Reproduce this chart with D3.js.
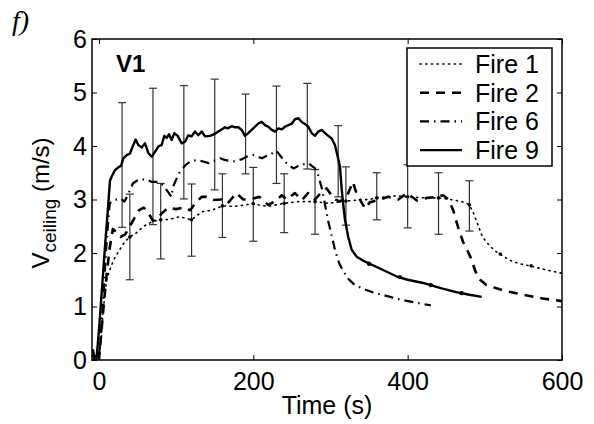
<!DOCTYPE html>
<html>
<head>
<meta charset="utf-8">
<script src="https://cdn.jsdelivr.net/npm/d3@7"></script>
<style>
  body { margin: 0; background: #fff; }
  svg { display: block; }
  text { font-family: "Liberation Sans", Arial, sans-serif; fill: #000; }
</style>
</head>
<body>
<svg id="chart" width="594" height="424"></svg>
<script>
// values: [time (s), V_ceiling (m/s)]
const fire1 = [[-8,0.15],[-6,0],[-3,0.12],[0,0.05],[3,0.4],[5,0.85],[8,1.25],[10,1.5],[14,1.68],[19,1.87],
  [25,2.02],[33,2.2],[40,2.3],[48,2.37],[57,2.49],[64,2.55],[72,2.6],[80,2.62],[92,2.63],[105,2.68],
  [112,2.65],[120,2.62],[133,2.77],[146,2.8],[155,2.85],[160,2.88],[175,2.87],[190,2.9],[200,2.92],
  [218,2.87],[230,2.9],[240,2.93],[258,2.96],[280,2.96],[297,2.93],[320,2.97],[335,2.99],[350,3.0],
  [360,3.03],[385,3.07],[400,3.05],[422,3.03],[440,3.03],[460,2.99],[473,2.95],[480,2.9],[486,2.72],
  [497,2.3],[507,2.12],[515,2.02],[526,1.92],[536,1.84],[548,1.79],[558,1.76],[578,1.69],[600,1.62]];

const fire2 = [[-8,0.1],[-5,0],[-2,0.1],[0,0],[3,0.5],[6,1.0],[10,1.6],[14,2.1],[18,2.45],[22,2.4],
  [28,2.3],[34,2.35],[40,2.5],[46,2.65],[52,2.8],[58,2.85],[64,2.75],[70,2.6],[76,2.65],[82,2.75],
  [90,2.85],[100,2.82],[110,2.85],[118,2.8],[126,2.95],[133,3.05],[139,3.05],[148,2.99],[159,3.0],
  [167,2.93],[178,3.12],[187,3.0],[195,3.0],[208,3.05],[219,2.9],[228,2.96],[237,3.08],[243,3.0],
  [254,3.12],[263,2.99],[271,3.12],[280,3.0],[289,3.15],[295,3.21],[304,3.02],[312,2.96],[321,3.05],
  [329,3.33],[334,3.1],[345,2.83],[351,2.95],[364,3.0],[375,3.05],[388,3.0],[399,3.12],[412,2.98],
  [425,3.03],[438,3.05],[446,3.08],[453,3.0],[459,2.8],[466,2.45],[472,2.2],[476,2.1],[482,1.9],
  [488,1.65],[494,1.5],[502,1.4],[515,1.34],[530,1.28],[550,1.22],[575,1.15],[600,1.1]];

const fire6 = [[-8,0.1],[-5,0],[-2,0.12],[0,0.05],[3,0.6],[6,1.2],[9,2.0],[12,2.6],[14,2.93],[20,2.99],
  [28,3.02],[33,2.96],[38,3.1],[44,3.3],[50,3.36],[61,3.38],[68,3.33],[77,3.33],[83,3.27],[89,3.15],
  [94,3.05],[96,3.24],[101,3.4],[105,3.52],[112,3.64],[118,3.71],[127,3.74],[135,3.71],[142,3.68],
  [157,3.77],[163,3.74],[174,3.71],[185,3.75],[191,3.8],[200,3.83],[211,3.77],[224,3.86],[230,3.91],
  [236,3.8],[243,3.68],[252,3.58],[260,3.64],[271,3.68],[280,3.58],[284,3.46],[289,3.2],[293,2.9],
  [297,2.6],[302,2.3],[306,2.05],[311,1.82],[317,1.65],[323,1.52],[330,1.42],[342,1.33],[358,1.25],
  [375,1.19],[390,1.13],[408,1.08],[430,1.02]];

const fire9 = [[-8,0.2],[-5,0],[-3,0.05],[0,0.55],[4,1.35],[8,2.15],[12,2.9],[14.3,3.35],[16.5,3.43],
  [20.8,3.55],[25.1,3.6],[28.6,3.63],[31.6,3.77],[36,3.83],[40.2,3.86],[44.5,4.02],[47.6,4.12],[51,4.02],
  [55.4,3.97],[59.7,4.05],[64,3.87],[68.4,3.8],[72.6,3.89],[76.9,3.99],[81.3,4.02],[84.7,4.19],[87.8,4.15],
  [90.8,4.22],[94.3,4.11],[97.6,4.24],[102,4.19],[107.2,4.05],[111.5,4.08],[115.8,4.2],[120,4.18],
  [124.5,4.27],[128.7,4.2],[133.1,4.27],[137.4,4.18],[143.9,4.19],[149.5,4.22],[154.6,4.27],[159,4.31],
  [163.3,4.35],[167,4.33],[172,4.37],[176,4.35],[180.6,4.35],[185,4.3],[189.2,4.19],[193.5,4.24],
  [197.9,4.3],[202.2,4.36],[206.5,4.42],[210.9,4.45],[215.2,4.39],[219.4,4.36],[223.8,4.3],[228.1,4.27],
  [232.4,4.33],[237,4.31],[241.1,4.36],[245.3,4.39],[250,4.42],[254,4.5],[258.3,4.52],[262.7,4.45],
  [267,4.41],[271.3,4.36],[275.7,4.24],[279.9,4.19],[284.2,4.27],[288.6,4.3],[292.9,4.24],[297.2,4.19],
  [301.6,4.14],[305.8,4.02],[309.4,3.8],[312.3,3.61],[314.5,3.2],[316.6,2.9],[318.8,2.62],[323,2.3],
  [327.5,2.06],[334,1.93],[342,1.86],[349,1.81],[364,1.71],[386,1.56],[400,1.5],[420,1.44],[444,1.34],
  [463,1.27],[480,1.22],[496,1.18]];

// error bars: [time, low, high]
const fire1Bars = [[40,1.5,3.1],[80,1.89,3.3],[120,1.94,3.29],[160,2.29,3.48],[200,2.22,3.6],[240,2.38,3.48],
  [280,2.35,3.56],[320,2.52,3.61],[360,2.62,3.5],[400,2.47,3.65],[440,2.35,3.5],[480,2.41,3.35]];
const fire9Bars = [[30,2.48,4.81],[70,2.53,5.08],[110,3.01,5.13],[150,3.18,5.25],[190,3.48,4.97],
  [230,3.3,5.12],[270,3.57,5.17],[310,3.05,4.38]];

// markers where the bars collapse
const fire1Marks = [[40,2.3],[80,2.62],[120,2.62],[160,2.88],[200,2.92],[240,2.93],[280,2.96],[320,2.97],
  [360,3.03],[400,3.05],[440,3.03],[480,2.9],[520,1.98],[560,1.76]];
const fire9Marks = [[350,1.8],[390,1.55],[430,1.4],[470,1.25]];

const xTicks = [0, 200, 400, 600];
const yTicks = [0, 1, 2, 3, 4, 5, 6];
const legendLabels = ["Fire 1", "Fire 2", "Fire 6", "Fire 9"];

const svg = d3.select("#chart");

const m = { left: 92, right: 562, top: 39, bottom: 360 };
const x = d3.scaleLinear().domain([-9, 600]).range([m.left, m.right]);
const y = d3.scaleLinear().domain([0, 6]).range([m.bottom, m.top]);

svg.append("defs").append("clipPath").attr("id", "clip")
  .append("rect").attr("x", m.left).attr("y", m.top)
  .attr("width", m.right - m.left).attr("height", m.bottom - m.top);

// axes, ticks pointing inward
const fs = 25;
svg.append("g").attr("transform", "translate(0," + m.bottom + ")")
  .call(d3.axisBottom(x).tickValues(xTicks).tickFormat(d3.format("d")).tickSize(-5).tickPadding(12));
svg.append("g").attr("transform", "translate(" + m.left + ",0)")
  .call(d3.axisLeft(y).tickValues(yTicks).tickFormat(d3.format("d")).tickSize(-5).tickPadding(5));
svg.append("g").attr("transform", "translate(0," + m.top + ")")
  .call(d3.axisTop(x).tickValues(xTicks).tickSize(-5).tickFormat(""));
svg.append("g").attr("transform", "translate(" + m.right + ",0)")
  .call(d3.axisRight(y).tickValues(yTicks).tickSize(-5).tickFormat(""));

svg.selectAll(".domain").remove();
svg.selectAll(".tick line").attr("stroke", "#000").attr("stroke-width", 1);
svg.selectAll(".tick text").attr("font-size", fs);

const plot = svg.append("g").attr("clip-path", "url(#clip)");

const line = d3.line().x(d => x(d[0])).y(d => y(d[1]));

// error bars
const capW = 4;
function drawBars(data) {
  const g = plot.append("g").attr("stroke", "#333").attr("stroke-width", 1.2);
  data.forEach(d => {
    g.append("line").attr("x1", x(d[0])).attr("x2", x(d[0])).attr("y1", y(d[1])).attr("y2", y(d[2]));
    g.append("line").attr("x1", x(d[0]) - capW).attr("x2", x(d[0]) + capW).attr("y1", y(d[1])).attr("y2", y(d[1]));
    g.append("line").attr("x1", x(d[0]) - capW).attr("x2", x(d[0]) + capW).attr("y1", y(d[2])).attr("y2", y(d[2]));
  });
}
drawBars(fire1Bars);
drawBars(fire9Bars);

const styles = [
  { data: fire1, dash: "1.2,4.5", width: 1.6, cap: "round" },
  { data: fire2, dash: "9,7", width: 2.6, cap: "butt" },
  { data: fire6, dash: "9,5,1.5,5", width: 2.2, cap: "butt" },
  { data: fire9, dash: null, width: 2.4, cap: "butt" }
];

styles.forEach(s => {
  plot.append("path").datum(s.data)
    .attr("fill", "none").attr("stroke", "#000")
    .attr("stroke-width", s.width)
    .attr("stroke-linecap", s.cap)
    .attr("stroke-linejoin", "round")
    .attr("stroke-dasharray", s.dash)
    .attr("d", line);
});

plot.selectAll(".m1").data(fire1Marks).enter().append("circle")
  .attr("cx", d => x(d[0])).attr("cy", d => y(d[1])).attr("r", 1.8).attr("fill", "#000");
plot.selectAll(".m9").data(fire9Marks).enter().append("circle")
  .attr("cx", d => x(d[0])).attr("cy", d => y(d[1])).attr("r", 2.2).attr("fill", "#000");

// frame
svg.append("rect").attr("x", m.left).attr("y", m.top)
  .attr("width", m.right - m.left).attr("height", m.bottom - m.top)
  .attr("fill", "none").attr("stroke", "#000").attr("stroke-width", 1.5);

// legend
const lg = svg.append("g");
lg.append("rect").attr("x", 407).attr("y", 48).attr("width", 145).attr("height", 118)
  .attr("fill", "#fff").attr("stroke", "#000").attr("stroke-width", 1.5);
legendLabels.forEach((lab, i) => {
  const ly = 64 + i * 28.7;
  const s = styles[i];
  lg.append("line").attr("x1", 420).attr("x2", 462).attr("y1", ly).attr("y2", ly)
    .attr("stroke", "#000").attr("stroke-width", s.width)
    .attr("stroke-linecap", s.cap)
    .attr("stroke-dasharray", s.dash);
  lg.append("text").attr("x", 475).attr("y", ly).attr("dy", "0.36em")
    .attr("font-size", fs).text(lab);
});

// labels
svg.append("text").attr("x", 116).attr("y", 72).attr("font-size", 24).attr("font-weight", "bold").text("V1");

svg.append("text").attr("x", (m.left + m.right) / 2).attr("y", 414).attr("text-anchor", "middle")
  .attr("font-size", fs).text("Time (s)");

const yl = svg.append("text").attr("transform", "translate(49,203) rotate(-90)")
  .attr("text-anchor", "middle").attr("font-size", 24);
yl.append("tspan").text("V");
yl.append("tspan").attr("font-size", 19).attr("dy", 7).text("ceiling");
yl.append("tspan").attr("dy", -7).text(" (m/s)");

svg.append("text").attr("x", 12).attr("y", 30)
  .style("font-family", "Liberation Serif, Times New Roman, serif")
  .attr("font-style", "italic").attr("font-size", 28).text("f)");
</script>
</body>
</html>
